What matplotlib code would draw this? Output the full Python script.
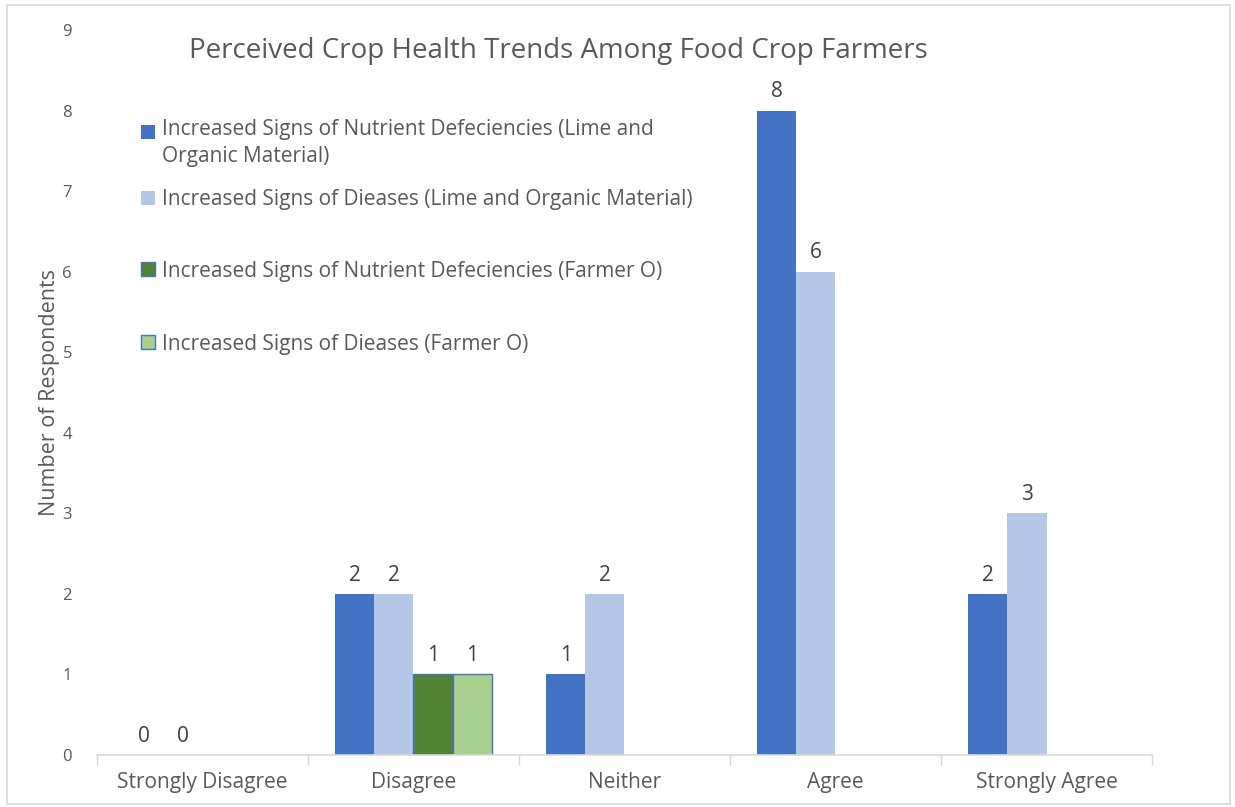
import numpy as np
import matplotlib.pyplot as plt
from matplotlib.patches import Rectangle
from matplotlib.legend_handler import HandlerPatch

plt.rcParams['font.family'] = ['Open Sans', 'DejaVu Sans']

categories = ['Strongly Disagree', 'Disagree', 'Neither', 'Agree', 'Strongly Agree']
nutrient_lime = [0, 2, 1, 8, 2]
disease_lime = [0, 2, 2, 6, 3]
nutrient_farmer_o = [np.nan, 1, np.nan, np.nan, np.nan]
disease_farmer_o = [np.nan, 1, np.nan, np.nan, np.nan]

series_names = ['Increased Signs of Nutrient Defeciencies (Lime and\nOrganic Material)',
                'Increased Signs of Dieases (Lime and Organic Material)',
                'Increased Signs of Nutrient Defeciencies (Farmer O)',
                'Increased Signs of Dieases (Farmer O)']
series = [nutrient_lime, disease_lime, nutrient_farmer_o, disease_farmer_o]
colors = ['#4472C4', '#B4C7E7', '#548235', '#A9D18E']
edges = ['none', 'none', '#4472C4', '#4472C4']

text_gray = '#595959'

fig = plt.figure(figsize=(12.35, 8.07), dpi=100)
ax = fig.add_axes([0.0785, 0.0644, 0.8543, 0.8984])

x = np.arange(len(categories))
w = 0.185
handles = []
for i, vals in enumerate(series):
    pos = x + (i - 1.5) * w
    bars = ax.bar(pos, vals, width=w, color=colors[i], edgecolor=edges[i],
                  linewidth=1.0, label=series_names[i])
    handles.append(Rectangle((0, 0), 1, 1, facecolor=colors[i], edgecolor=edges[i], linewidth=1.0))
    for p, v in zip(pos, vals):
        if not np.isnan(v):
            ax.annotate(str(int(v)), (p, v), xytext=(0, 6), textcoords='offset points',
                        ha='center', va='bottom', fontsize=15, color='#404040')

ax.set_xlim(-0.5, len(categories) - 0.5)
ax.set_ylim(0, 9)
ax.set_yticks(range(10))
ax.set_xticks(x)
ax.set_xticklabels(categories, fontsize=15, color=text_gray)
ax.set_xticks(np.arange(len(categories) + 1) - 0.5, minor=True)
ax.tick_params(axis='x', which='major', length=0, pad=12)
ax.tick_params(axis='x', which='minor', length=7, color='#D9D9D9', width=1)
ax.tick_params(axis='y', length=0, pad=18, labelsize=12, labelcolor=text_gray)
for s in ['top', 'right', 'left']:
    ax.spines[s].set_visible(False)
ax.spines['bottom'].set_color('#D9D9D9')
ax.spines['bottom'].set_linewidth(1.2)

ax.set_ylabel('Number of Respondents', fontsize=15.5, color=text_gray, labelpad=2)
fig.text(0.452, 0.937, 'Perceived Crop Health Trends Among Food Crop Farmers',
         ha='center', va='center', fontsize=20, color=text_gray)


# first legend marker sits next to the first line of the wrapped label
def top_line_patch(legend, orig_handle, xdescent, ydescent, width, height, fontsize):
    return Rectangle((-xdescent, -ydescent + 0.55 * fontsize), width, height)


leg_kw = dict(loc='upper left', frameon=False, fontsize=15, labelcolor=text_gray,
              handlelength=0.65, handleheight=0.65, handletextpad=0.35, borderpad=0,
              borderaxespad=0)
leg1 = ax.legend(handles[:2], series_names[:2], bbox_to_anchor=(0.1142, 0.853),
                 bbox_transform=fig.transFigure, labelspacing=1.05,
                 handler_map={handles[0]: HandlerPatch(patch_func=top_line_patch)}, **leg_kw)
for t in leg1.get_texts():
    t.set_linespacing(1.4)
ax.add_artist(leg1)
leg2 = ax.legend(handles[2:], series_names[2:], bbox_to_anchor=(0.1142, 0.677),
                 bbox_transform=fig.transFigure, labelspacing=2.5, **leg_kw)

fig.patches.append(Rectangle((0.006, 0.004), 0.99, 0.99, transform=fig.transFigure,
                             fill=False, edgecolor='#D9D9D9', linewidth=1.2))

fig.savefig('out.png', dpi=100)
